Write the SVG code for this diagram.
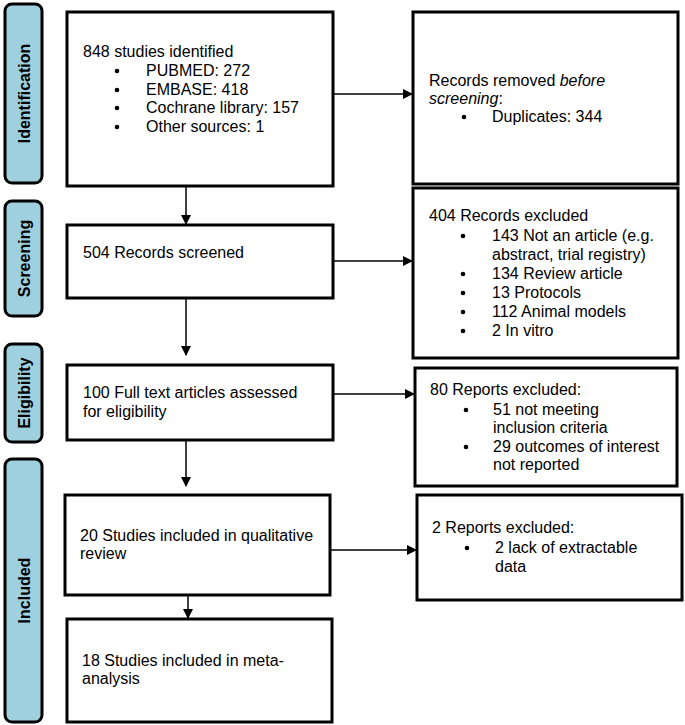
<svg xmlns="http://www.w3.org/2000/svg" width="685" height="725" viewBox="0 0 685 725">
<style>
.lab{fill:#9fd0df;stroke:#000;stroke-width:3}
.lt{font-family:"Liberation Sans",Arial,sans-serif;font-size:16px;font-weight:bold;fill:#000;text-anchor:middle}
.box{fill:#fff;stroke:#000;stroke-width:3}
.t{font-family:"Liberation Sans",Arial,sans-serif;font-size:16px;fill:#000}
.b{fill:#000}
.c{stroke:#000;stroke-width:1.5;fill:none}
</style>
<defs>
<marker id="ah" markerWidth="10" markerHeight="10" refX="9" refY="5" orient="auto" markerUnits="userSpaceOnUse">
<path d="M0,0 L10,5 L0,10 z" fill="#000"/>
</marker>
</defs>
<rect width="685" height="725" fill="#fff"/>
<g id="label-identification"><rect class="lab" x="5" y="4" width="37" height="179" rx="7"/><text class="lt" transform="translate(29.5,93.5) rotate(-90)">Identification</text></g>
<g id="label-screening"><rect class="lab" x="5" y="201" width="37" height="115" rx="7"/><text class="lt" transform="translate(29.5,258.5) rotate(-90)">Screening</text></g>
<g id="label-eligibility"><rect class="lab" x="5" y="344" width="37" height="98" rx="7"/><text class="lt" transform="translate(29.5,393) rotate(-90)">Eligibility</text></g>
<g id="label-included"><rect class="lab" x="5" y="459" width="37" height="263" rx="7"/><text class="lt" transform="translate(29.5,590.5) rotate(-90)">Included</text></g>

<g id="connectors">
<line class="c" x1="333" y1="94" x2="412" y2="94" marker-end="url(#ah)"/>
<line class="c" x1="186" y1="186" x2="186" y2="224" marker-end="url(#ah)"/>
<line class="c" x1="333" y1="261" x2="412" y2="261" marker-end="url(#ah)"/>
<line class="c" x1="186" y1="298" x2="186" y2="355" marker-end="url(#ah)"/>
<line class="c" x1="333" y1="394" x2="414" y2="394" marker-end="url(#ah)"/>
<line class="c" x1="186" y1="441" x2="186" y2="486" marker-end="url(#ah)"/>
<line class="c" x1="330" y1="550" x2="416" y2="550" marker-end="url(#ah)"/>
<line class="c" x1="188" y1="595" x2="188" y2="618" marker-end="url(#ah)"/>
</g>

<g id="identified"><rect class="box" x="67" y="12" width="266" height="174"/>
<text class="t" x="83" y="57">848 studies identified</text>
<circle class="b" cx="117" cy="71" r="2.3"/><text class="t" x="146" y="76">PUBMED: 272</text>
<circle class="b" cx="117" cy="90" r="2.3"/><text class="t" x="146" y="95">EMBASE: 418</text>
<circle class="b" cx="117" cy="108" r="2.3"/><text class="t" x="146" y="113">Cochrane library: 157</text>
<circle class="b" cx="117" cy="127" r="2.3"/><text class="t" x="146" y="132">Other sources: 1</text>
</g>
<g id="removed"><rect class="box" x="413" y="12" width="265" height="172"/>
<text class="t" x="429" y="86">Records removed <tspan font-style="italic">before</tspan></text>
<text class="t" x="429" y="104"><tspan font-style="italic">screening</tspan>:</text>
<circle class="b" cx="464" cy="117" r="2.3"/><text class="t" x="492" y="122">Duplicates: 344</text>
</g>
<g id="screened"><rect class="box" x="67" y="225" width="266" height="73"/>
<text class="t" x="83" y="258">504 Records screened</text>
</g>
<g id="excluded404"><rect class="box" x="413" y="188" width="265" height="170"/>
<text class="t" x="429" y="221">404 Records excluded</text>
<circle class="b" cx="463" cy="236" r="2.3"/><text class="t" x="492" y="241">143 Not an article (e.g.</text>
<text class="t" x="492" y="260">abstract, trial registry)</text>
<circle class="b" cx="463" cy="274" r="2.3"/><text class="t" x="492" y="279">134 Review article</text>
<circle class="b" cx="463" cy="293" r="2.3"/><text class="t" x="492" y="298">13 Protocols</text>
<circle class="b" cx="463" cy="312" r="2.3"/><text class="t" x="492" y="317">112 Animal models</text>
<circle class="b" cx="463" cy="331" r="2.3"/><text class="t" x="492" y="336">2 In vitro</text>
</g>
<g id="fulltext"><rect class="box" x="67" y="365" width="266" height="75"/>
<text class="t" x="83" y="398">100 Full text articles assessed</text>
<text class="t" x="83" y="417">for eligibility</text>
</g>
<g id="excluded80"><rect class="box" x="415" y="368" width="262" height="118"/>
<text class="t" x="430" y="395">80 Reports excluded:</text>
<circle class="b" cx="466" cy="410" r="2.3"/><text class="t" x="493" y="415">51 not meeting</text>
<text class="t" x="493" y="433">inclusion criteria</text>
<circle class="b" cx="466" cy="447" r="2.3"/><text class="t" x="493" y="452">29 outcomes of interest</text>
<text class="t" x="493" y="470">not reported</text>
</g>
<g id="qualitative"><rect class="box" x="65" y="495" width="265" height="100"/>
<text class="t" x="80" y="541">20 Studies included in qualitative</text>
<text class="t" x="80" y="559">review</text>
</g>
<g id="excluded2"><rect class="box" x="417" y="495" width="265" height="105"/>
<text class="t" x="432" y="533">2 Reports excluded:</text>
<circle class="b" cx="467" cy="548" r="2.3"/><text class="t" x="495" y="553">2 lack of extractable</text>
<text class="t" x="495" y="572">data</text>
</g>
<g id="meta"><rect class="box" x="67" y="619" width="265" height="103"/>
<text class="t" x="82" y="666">18 Studies included in meta-</text>
<text class="t" x="82" y="684">analysis</text>
</g>
</svg>
